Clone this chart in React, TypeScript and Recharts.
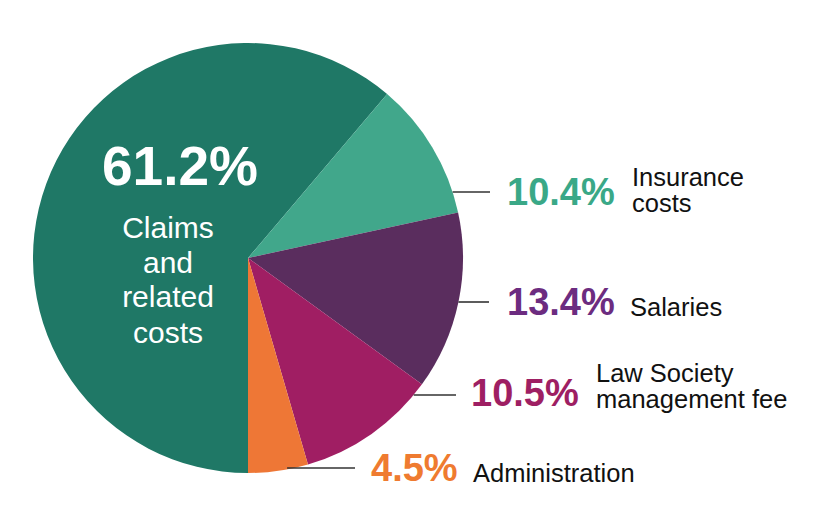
import React from 'react';
import { PieChart, Pie, Cell } from 'recharts';

const categories = ['Claims and related costs', 'Insurance costs', 'Salaries', 'Law Society management fee', 'Administration'];
const values = [61.2, 10.4, 13.4, 10.5, 4.5];
const pctLabels = ['61.2%', '10.4%', '13.4%', '10.5%', '4.5%'];
const nameLines = [
  ['Claims', 'and', 'related', 'costs'],
  ['Insurance', 'costs'],
  ['Salaries'],
  ['Law Society', 'management fee'],
  ['Administration'],
];
const sliceColors = ['#1f7866', '#41a78b', '#5a2d5e', '#a01e63', '#ee7736'];
const labelColors = ['#ffffff', '#3aa887', '#6c2c80', '#9e1f63', '#ef7b30'];

const data = categories.map((name, i) => ({ name, value: values[i] }));

const FONT = '"Liberation Sans", Arial, Helvetica, sans-serif';

// annotation layout, offsets relative to pie centre
const outsideLayout: Record<number, { dy: number; lineEnd: number; pctX: number; pctDy: number; nameX: number; nameDy: number[]; inset?: number }> = {
  1: { dy: -66, lineEnd: 242, pctX: 259, pctDy: -53, nameX: 384, nameDy: [-72, -46] },
  2: { dy: 44, lineEnd: 241, pctX: 259, pctDy: 57, nameX: 382, nameDy: [58] },
  3: { dy: 137, lineEnd: 208, pctX: 223, pctDy: 148, nameX: 348, nameDy: [124, 150] },
  4: { dy: 210, lineEnd: 107, pctX: 123, pctDy: 223, nameX: 225, nameDy: [224], inset: 7 },
};

const renderLabel = (props: any) => {
  const { cx, cy, outerRadius, index } = props;
  if (index === 0) {
    const baseDy = [-20, 15, 49, 85];
    return (
      <g>
        <text x={cx - 68} y={cy - 73} textAnchor="middle" fill={labelColors[0]} fontFamily={FONT} fontWeight="bold" fontSize={55}>
          {pctLabels[0]}
        </text>
        {nameLines[0].map((t, k) => (
          <text key={k} x={cx - 80} y={cy + baseDy[k]} textAnchor="middle" fill={labelColors[0]} fontFamily={FONT} fontSize={30}>
            {t}
          </text>
        ))}
      </g>
    );
  }
  const L = outsideLayout[index];
  const y = cy + L.dy;
  const edgeX = cx + Math.sqrt(Math.max(outerRadius * outerRadius - L.dy * L.dy, 0)) - (L.inset || 0);
  return (
    <g>
      <line x1={edgeX} y1={y} x2={cx + L.lineEnd} y2={y} stroke="#333333" strokeWidth={1.6} />
      <text x={cx + L.pctX} y={cy + L.pctDy} fill={labelColors[index]} fontFamily={FONT} fontWeight="bold" fontSize={38}>
        {pctLabels[index]}
      </text>
      {nameLines[index].map((t, k) => (
        <text key={k} x={cx + L.nameX} y={cy + L.nameDy[k]} fill="#111111" fontFamily={FONT} fontSize={25.5}>
          {t}
        </text>
      ))}
    </g>
  );
};

export default function App() {
  return (
    <div style={{ position: 'absolute', left: 0, top: 0, width: 818, height: 522, background: '#ffffff' }}>
      <PieChart width={818} height={522} margin={{ top: 0, right: 0, bottom: 0, left: 0 }}>
        <Pie
          data={data}
          dataKey="value"
          nameKey="name"
          cx={248}
          cy={258}
          outerRadius={215}
          startAngle={270}
          endAngle={-90}
          stroke="none"
          labelLine={false}
          label={renderLabel}
          isAnimationActive={false}
        >
          {data.map((d, i) => (
            <Cell key={d.name} fill={sliceColors[i]} />
          ))}
        </Pie>
      </PieChart>
    </div>
  );
}
